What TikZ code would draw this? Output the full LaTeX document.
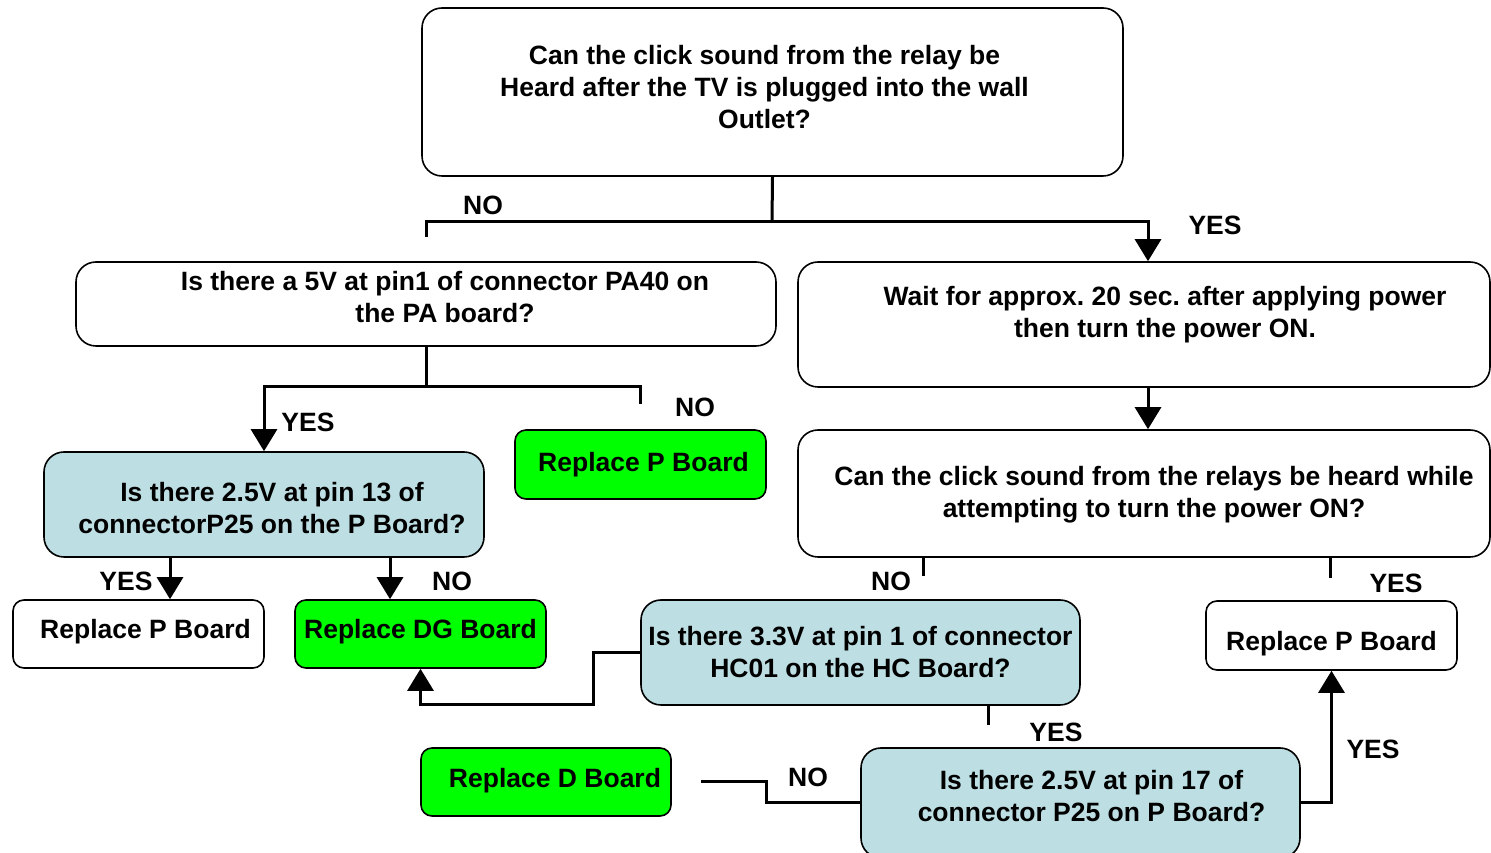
\documentclass[tikz,border=0pt]{standalone}
\usepackage{fontspec}
\setmainfont{Liberation Sans}
\frenchspacing
\usetikzlibrary{arrows.meta}
\definecolor{qblue}{HTML}{BDDFE4}
\definecolor{okgreen}{HTML}{00FF00}
\tikzset{
  % riquadro generico
  box/.style={draw=black, line width=1.6pt, rounded corners=11pt, inner sep=0pt,
    fill=white},
  bigbox/.style={box, rounded corners=20pt},
  % domanda di controllo
  qbox/.style={bigbox, fill=qblue},
  % scheda da sostituire
  grbox/.style={box, fill=okgreen},
  % testo dei riquadri
  txt/.style={align=center, inner sep=0pt, font=\fontsize{26.5}{32}\selectfont\bfseries},
  % etichette SI / NO
  lbl/.style={font=\fontsize{26.5}{32}\selectfont\bfseries, inner sep=0pt},
  % collegamenti
  conn/.style={line width=3pt},
  arr/.style={conn, -{Triangle[width=26pt,length=22pt]}},
}

\begin{document}
\begin{tikzpicture}[x=1pt, y=1pt]
  \clip (0,0) rectangle (1491,853);
  % riquadri
  \node[bigbox, minimum width=701pt, minimum height=168pt] (q1) at (772.5,761) {};
  \node[txt] (q1t) at ([xshift=-8pt,yshift=5pt]q1)
    {Can the click sound from the relay be\\Heard after the TV is plugged into the wall\\Outlet?};
  \node[bigbox, minimum width=700pt, minimum height=84pt] (q2) at (426,549) {};
  \node[txt] (q2t) at ([xshift=19pt,yshift=7pt]q2)
    {Is there a 5V at pin1 of connector PA40 on\\the PA board?};
  \node[bigbox, minimum width=692pt, minimum height=125pt] (wait) at (1144,528.5) {};
  \node[txt] (waitt) at ([xshift=21pt,yshift=10pt]wait)
    {Wait for approx. 20 sec. after applying power\\then turn the power ON.};
  \node[bigbox, minimum width=692pt, minimum height=127pt] (q3) at (1144,359.5) {};
  \node[txt] (q3t) at ([xshift=10pt,yshift=-1pt]q3)
    {Can the click sound from the relays be heard while\\attempting to turn the power ON?};
  \node[qbox, minimum width=440pt, minimum height=105pt] (q4) at (264,348.5) {};
  \node[txt] (q4t) at ([xshift=8pt,yshift=-4pt]q4)
    {Is there 2.5V at pin 13 of\\connectorP25 on the P Board?};
  \node[grbox, minimum width=251pt, minimum height=69pt] (rp1) at (640.5,388.5) {};
  \node[txt] (rp1t) at ([xshift=3pt,yshift=0pt]rp1) {Replace P Board};
  \node[box, minimum width=251pt, minimum height=68pt] (rp2) at (138.5,219) {};
  \node[txt] (rp2t) at ([xshift=7pt,yshift=2pt]rp2) {Replace P Board};
  \node[grbox, minimum width=251pt, minimum height=68pt] (rdg) at (420.5,219) {};
  \node[txt] (rdgt) at ([yshift=2pt]rdg) {Replace DG Board};
  \node[qbox, minimum width=439pt, minimum height=105pt] (q5) at (860.5,200.5) {};
  \node[txt] (q5t) at (q5) {Is there 3.3V at pin 1 of connector\\HC01 on the HC Board?};
  \node[box, minimum width=251pt, minimum height=69pt] (rp3) at (1331.5,217.5) {};
  \node[txt] (rp3t) at ([yshift=-8pt]rp3) {Replace P Board};
  \node[grbox, minimum width=250pt, minimum height=68pt] (rd) at (546,71) {};
  \node[txt] (rdt) at ([xshift=9pt,yshift=1pt]rd) {Replace D Board};
  \node[qbox, minimum width=439pt, minimum height=110pt] (q6) at (1080.5,50) {};
  \node[txt] (q6t) at ([xshift=11pt,yshift=7pt]q6)
    {Is there 2.5V at pin 17 of\\connector P25 on P Board?};
  % collegamenti
  \coordinate (j1) at (772,631);
  \draw[conn] (q1.south) -- (j1);
  \draw[conn] (j1) -| ([yshift=24pt]q2.north);
  \draw[arr] (j1) -| ([xshift=4pt]wait.north);
  \coordinate (j2) at (426,466);
  \draw[conn] (q2.south) -- (j2);
  \draw[arr] (j2) -| (q4.north);
  \draw[conn] (j2) -| ([yshift=25pt]rp1.north);
  \draw[arr] ([xshift=4pt]wait.south) -- ([xshift=4pt]q3.north);
  \coordinate (a1) at ([xshift=31.5pt]rp2.north);
  \draw[arr] (q4.south -| a1) -- (a1);
  \coordinate (a2) at ([xshift=-30.5pt]rdg.north);
  \draw[arr] (q4.south -| a2) -- (a2);
  \draw[conn] ([xshift=-221pt]q3.south) -- ++(0,-18);
  \draw[conn] ([xshift=186pt]q3.south) -- ++(0,-20);
  \draw[arr] (q5.west) -- ++(-47,0) |- ([yshift=-36pt]rdg.south) -- (rdg.south);
  \draw[conn] ([xshift=127.5pt]q5.south) -- ++(0,-19);
  \draw[conn] (q6.west) -- ++(-94,0) |- ([xshift=29pt]rd.east);
  \draw[arr] (q6.east) -| (rp3.south);
  % etichette
  \node[lbl] (no1) at (483,648) {NO};
  \node[lbl] (yes1) at (1215,628) {YES};
  \node[lbl] (yes2) at (308,431) {YES};
  \node[lbl] (no2) at (695,446) {NO};
  \node[lbl] (yes3) at (126,272) {YES};
  \node[lbl] (no3) at (452,272) {NO};
  \node[lbl] (no4) at (891,272) {NO};
  \node[lbl] (yes4) at (1396,270) {YES};
  \node[lbl] (yes5) at (1056,121) {YES};
  \node[lbl] (no5) at (808,76) {NO};
  \node[lbl] (yes6) at (1373,104) {YES};
\end{tikzpicture}
\end{document}
